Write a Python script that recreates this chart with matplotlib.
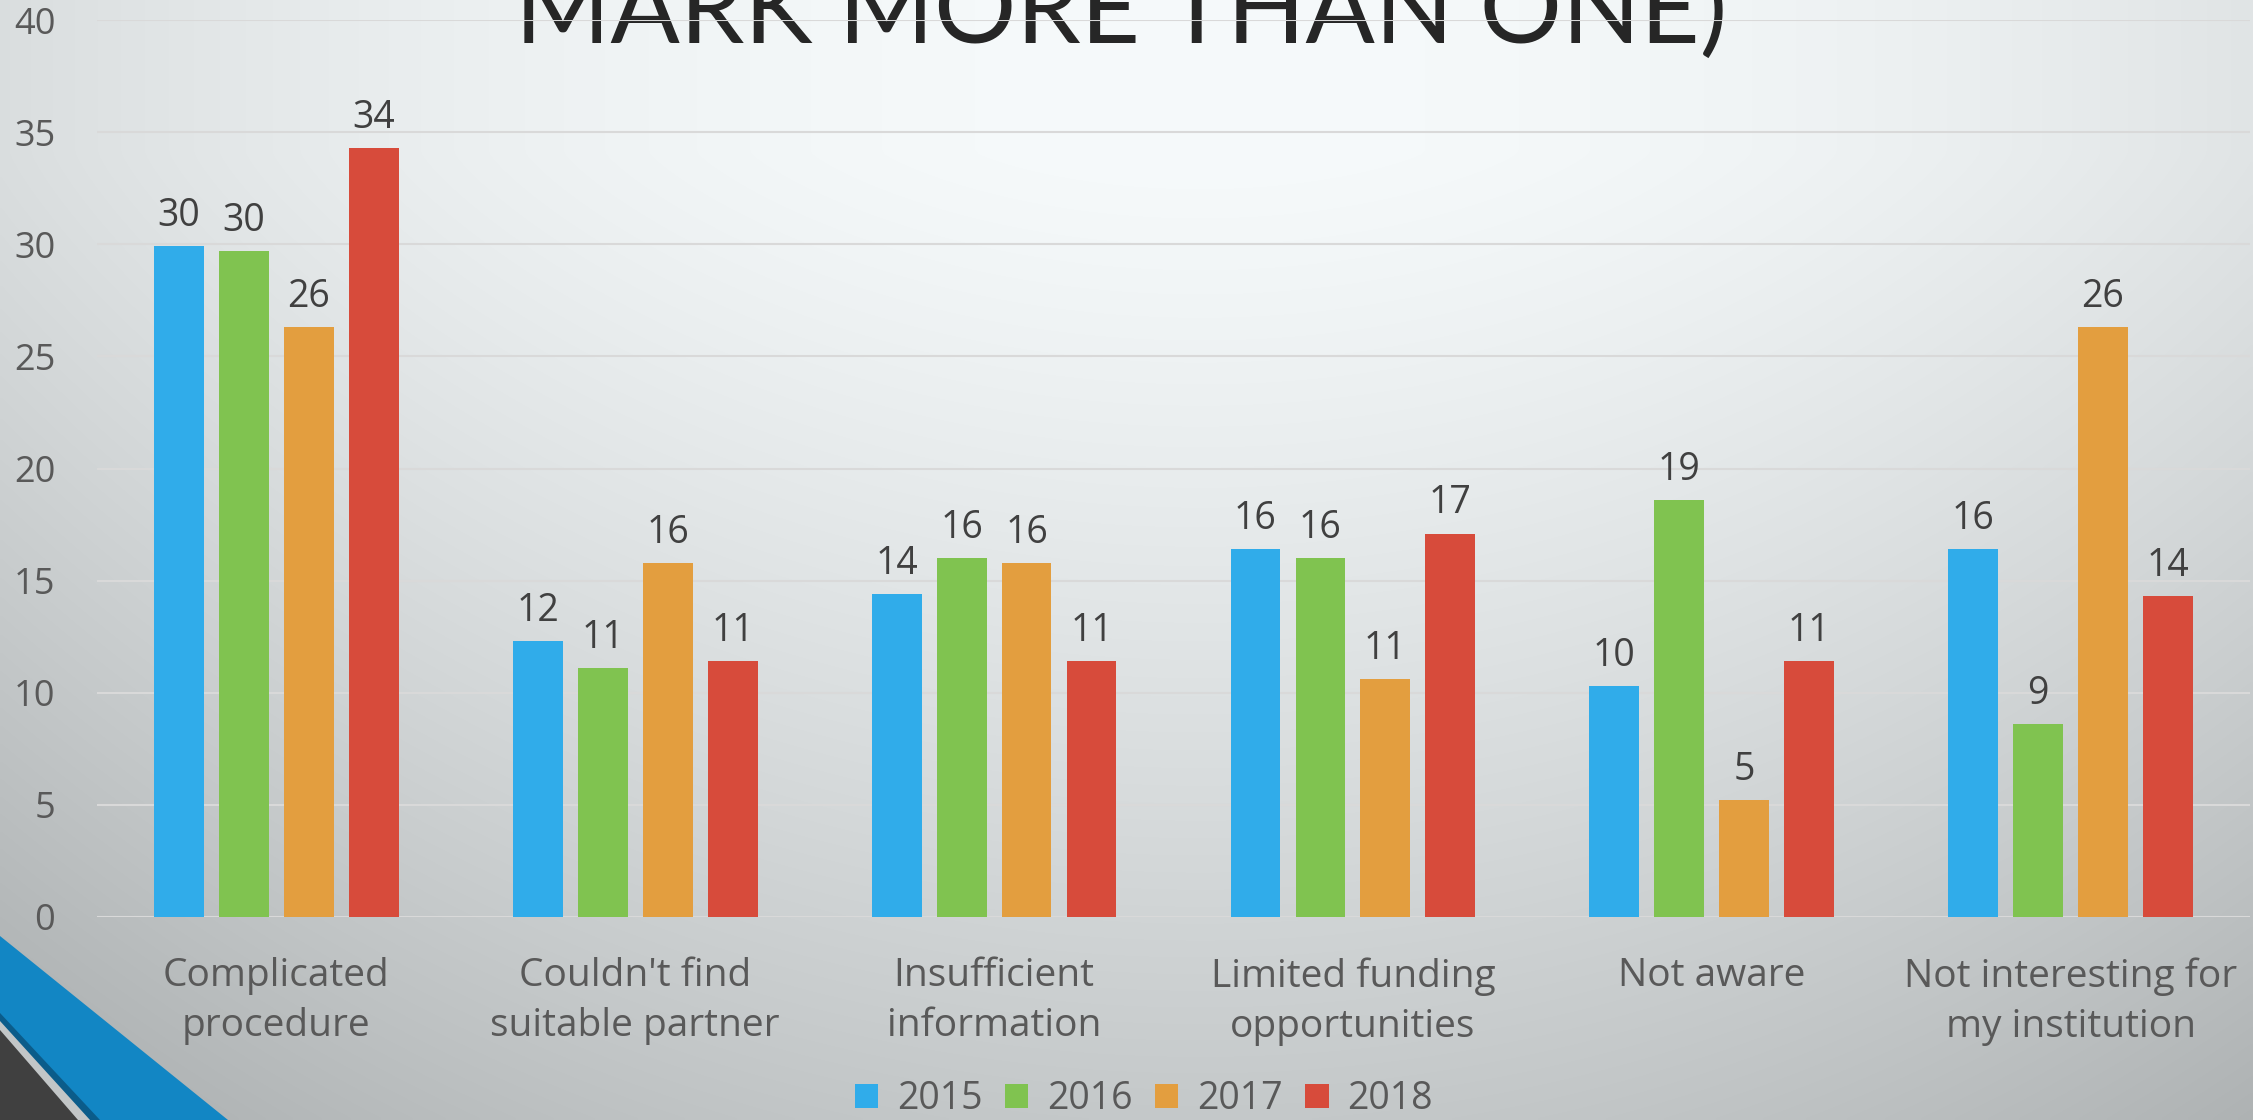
import numpy as np
import matplotlib
matplotlib.use("Agg")
import matplotlib.pyplot as plt
from matplotlib.patches import Polygon

plt.rcParams["font.family"] = ["Open Sans", "DejaVu Sans"]

# data (percent of answers)
categories = ["Complicated\nprocedure", "Couldn't find\nsuitable partner",
              "Insufficient\ninformation", "Limited funding\nopportunities",
              "Not aware", "Not interesting for\nmy institution"]
years = ["2015", "2016", "2017", "2018"]
v2015 = [29.9, 12.3, 14.4, 16.4, 10.3, 16.4]
v2016 = [29.7, 11.1, 16.0, 16.0, 18.6, 8.6]
v2017 = [26.3, 15.8, 15.8, 10.6, 5.2, 26.3]
v2018 = [34.3, 11.4, 11.4, 17.1, 11.4, 14.3]
series = [v2015, v2016, v2017, v2018]
colors = ["#30acea", "#80c350", "#e39e3f", "#d74b3b"]
yticks = [0, 5, 10, 15, 20, 25, 30, 35, 40]

W, H = 2253, 1120
fig = plt.figure(figsize=(W / 100, H / 100), dpi=100)

# slide background
bg = fig.add_axes([0, 0, 1, 1], zorder=-5)
yy, xx = np.mgrid[0:H:4, 0:W:4]
lum = 250 - 50 * np.clip((yy - 150) / 970, 0, None) ** 1.2 - 100 * ((xx - 1200) / W) ** 2
img = np.dstack([lum - 4, lum, lum + 1]) / 255
bg.imshow(np.clip(img, 0, 1), extent=(0, W, H, 0), aspect="auto", interpolation="bilinear")
bg.set_xlim(0, W)
bg.set_ylim(H, 0)
bg.axis("off")

bg.add_patch(Polygon([(0, 936), (228, H), (0, H)], color="#1286c4", lw=0))
bg.add_patch(Polygon([(0, 1013), (100, H), (0, H)], color="#0b5c8a", lw=0))
bg.add_patch(Polygon([(0, 1021), (90, H), (0, H)], color="#c2c6c7", lw=0))
bg.add_patch(Polygon([(0, 1030), (78, H), (0, H)], color="#404040", lw=0))

bg.text(1121, 43, "MARK MORE THAN ONE)", ha="center", va="baseline",
        fontsize=74, color="#262626", family=["Lato", "DejaVu Sans"])

# chart
ax = fig.add_axes([97 / W, 1 - 917 / H, (2250 - 97) / W, (917 - 20) / H])
ax.set_facecolor("none")
x = np.arange(len(categories))
step = 0.181
width = 0.139
for i, (vals, yr) in enumerate(zip(series, years)):
    bars = ax.bar(x + (i - 1.5) * step, vals, width, color=colors[i], label=yr, zorder=3)
    ax.bar_label(bars, labels=[f"{v:.0f}" for v in vals], padding=8,
                 fontsize=27, color="#404040")

ax.set_xlim(-0.5, len(categories) - 0.5)
ax.set_ylim(0, 40)
ax.set_yticks(yticks)
ax.set_xticks(x)
ax.set_xticklabels(categories, fontsize=28, color="#595959", linespacing=1.42)
ax.tick_params(axis="y", labelsize=26, labelcolor="#595959", length=0, pad=30)
ax.tick_params(axis="x", length=0, pad=29)
ax.grid(axis="y", color="#d9d9d9", lw=1.5, zorder=0)
for s in ax.spines.values():
    s.set_visible(False)

fig.legend(loc="center", bbox_to_anchor=(1144 / W, 1 - 1099 / H), ncol=4, frameon=False,
           fontsize=27, labelcolor="#595959", handlelength=0.62, handleheight=0.62,
           handletextpad=0.5, columnspacing=0.6)

fig.savefig("out.png", dpi=100)
